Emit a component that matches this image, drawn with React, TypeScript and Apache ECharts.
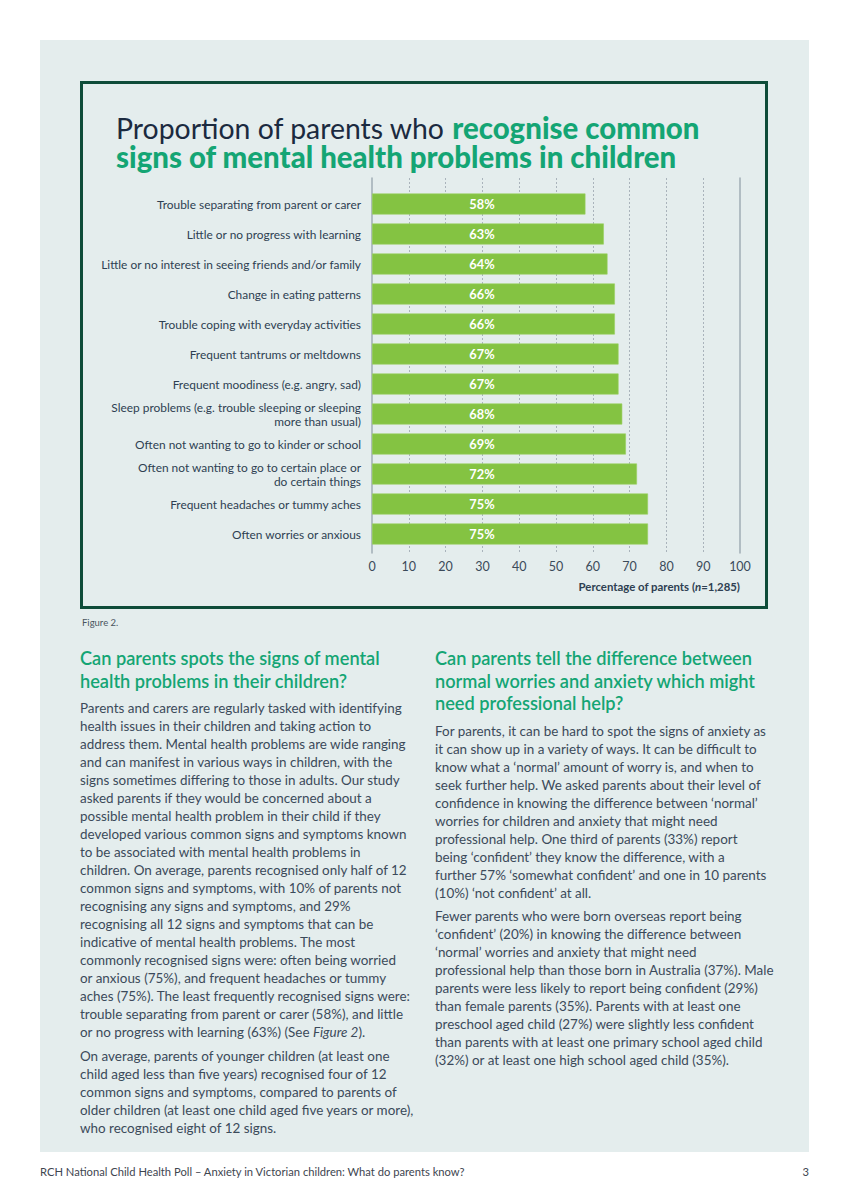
import React, { useEffect, useRef } from "react";
import * as echarts from "echarts";

const categories = [
  "Trouble separating from parent or carer",
  "Little or no progress with learning",
  "Little or no interest in seeing friends and/or family",
  "Change in eating patterns",
  "Trouble coping with everyday activities",
  "Frequent tantrums or meltdowns",
  "Frequent moodiness (e.g. angry, sad)",
  "Sleep problems (e.g. trouble sleeping or sleeping\nmore than usual)",
  "Often not wanting to go to kinder or school",
  "Often not wanting to go to certain place or\ndo certain things",
  "Frequent headaches or tummy aches",
  "Often worries or anxious",
];
const values = [58, 63, 64, 66, 66, 67, 67, 68, 69, 72, 75, 75];
const tickValues = [0, 10, 20, 30, 40, 50, 60, 70, 80, 90, 100];

const leftHeading = ["Can parents spots the signs of mental", "health problems in their children?"];
const leftPara1 = [
  "Parents and carers are regularly tasked with identifying",
  "health issues in their children and taking action to",
  "address them. Mental health problems are wide ranging",
  "and can manifest in various ways in children, with the",
  "signs sometimes differing to those in adults. Our study",
  "asked parents if they would be concerned about a",
  "possible mental health problem in their child if they",
  "developed various common signs and symptoms known",
  "to be associated with mental health problems in",
  "children. On average, parents recognised only half of 12",
  "common signs and symptoms, with 10% of parents not",
  "recognising any signs and symptoms, and 29%",
  "recognising all 12 signs and symptoms that can be",
  "indicative of mental health problems. The most",
  "commonly recognised signs were: often being worried",
  "or anxious (75%), and frequent headaches or tummy",
  "aches (75%). The least frequently recognised signs were:",
  "trouble separating from parent or carer (58%), and little",
  "or no progress with learning (63%) (See Figure 2).",
];
const leftPara2 = [
  "On average, parents of younger children (at least one",
  "child aged less than five years) recognised four of 12",
  "common signs and symptoms, compared to parents of",
  "older children (at least one child aged five years or more),",
  "who recognised eight of 12 signs.",
];
const rightHeading = [
  "Can parents tell the difference between",
  "normal worries and anxiety which might",
  "need professional help?",
];
const rightPara1 = [
  "For parents, it can be hard to spot the signs of anxiety as",
  "it can show up in a variety of ways. It can be difficult to",
  "know what a \u2018normal\u2019 amount of worry is, and when to",
  "seek further help. We asked parents about their level of",
  "confidence in knowing the difference between \u2018normal\u2019",
  "worries for children and anxiety that might need",
  "professional help. One third of parents (33%) report",
  "being \u2018confident\u2019 they know the difference, with a",
  "further 57% \u2018somewhat confident\u2019 and one in 10 parents",
  "(10%) \u2018not confident\u2019 at all.",
];
const rightPara2 = [
  "Fewer parents who were born overseas report being",
  "\u2018confident\u2019 (20%) in knowing the difference between",
  "\u2018normal\u2019 worries and anxiety that might need",
  "professional help than those born in Australia (37%). Male",
  "parents were less likely to report being confident (29%)",
  "than female parents (35%). Parents with at least one",
  "preschool aged child (27%) were slightly less confident",
  "than parents with at least one primary school aged child",
  "(32%) or at least one high school aged child (35%).",
];

const FONT = "Lato, 'Open Sans', sans-serif";
const GREEN_TEXT = "#14a574";
const BODY = "#3b4a5a";

function renderLine(line: string, i: number) {
  const key = "Figure 2";
  const idx = line.indexOf(key);
  if (idx >= 0) {
    return (
      <div key={i}>
        {line.slice(0, idx)}
        <i>{key}</i>
        {line.slice(idx + key.length)}
      </div>
    );
  }
  return <div key={i}>{line}</div>;
}

const headingStyle: React.CSSProperties = {
  fontFamily: FONT,
  fontSize: 18.2,
  fontWeight: 600,
  lineHeight: "22.5px",
  color: GREEN_TEXT,
  whiteSpace: "nowrap",
};
const bodyStyle: React.CSSProperties = {
  fontFamily: FONT,
  fontSize: 13.45,
  lineHeight: "18px",
  color: BODY,
  whiteSpace: "nowrap",
};

const titleRich = {
  a: { fontFamily: FONT, fontSize: 28.4, fontWeight: 400, color: "#1b2a40", lineHeight: 29 },
  b: { fontFamily: FONT, fontSize: 29.4, fontWeight: 900, color: GREEN_TEXT, lineHeight: 29 },
};

export default function App() {
  const ref = useRef<HTMLDivElement>(null);
  useEffect(() => {
    if (!ref.current) return;
    const chart = echarts.init(ref.current, undefined, { renderer: "svg" });
    chart.setOption({
      animation: false,
      backgroundColor: "transparent",
      title: [
        {
          left: 116,
          top: 113,
          padding: 0,
          text: "{a|Proportion of parents who }{b|recognise common}",
          textStyle: { rich: titleRich },
        },
        {
          left: 116,
          top: 142,
          padding: 0,
          text: "{b|signs of mental health problems in children}",
          textStyle: { rich: titleRich },
        },
      ],
      grid: [
        { left: 372, width: 368, top: 189, height: 360, containLabel: false },
        { left: 372, width: 368, top: 178, height: 375, containLabel: false },
      ],
      xAxis: [
        { gridIndex: 0, type: "value", min: 0, max: 100, show: false },
        {
          gridIndex: 1,
          type: "value",
          min: 0,
          max: 100,
          interval: 10,
          axisLine: { show: false },
          axisTick: { show: false },
          axisLabel: {
            margin: 7,
            color: BODY,
            fontFamily: FONT,
            fontSize: 12.5,
            formatter: (v: number) => (tickValues.includes(v) ? String(v) : ""),
          },
          splitLine: {
            show: true,
            showMinLine: false,
            showMaxLine: false,
            lineStyle: { color: "#a9b3bb", type: [2, 2], width: 1 },
          },
        },
      ],
      yAxis: [
        {
          gridIndex: 0,
          type: "category",
          data: categories,
          inverse: true,
          axisLine: { show: false },
          axisTick: { show: false },
          splitLine: { show: false },
          axisLabel: {
            margin: 11,
            color: "#2e3f52",
            fontFamily: FONT,
            fontSize: 11.9,
            lineHeight: 14,
            align: "right",
          },
        },
        {
          gridIndex: 1,
          type: "value",
          min: 0,
          max: 1,
          position: "left",
          axisLine: { show: true, lineStyle: { color: "#a1acb5", width: 1.5 } },
          axisTick: { show: false },
          axisLabel: { show: false },
          splitLine: { show: false },
        },
        {
          gridIndex: 1,
          type: "value",
          min: 0,
          max: 1,
          position: "right",
          axisLine: { show: true, lineStyle: { color: "#a1acb5", width: 1.5 } },
          axisTick: { show: false },
          axisLabel: { show: false },
          splitLine: { show: false },
        },
      ],
      series: [
        {
          type: "bar",
          xAxisIndex: 0,
          yAxisIndex: 0,
          data: values,
          barWidth: 21,
          itemStyle: { color: "#84c342", borderColor: "#9bd062", borderWidth: 0.6 },
          z: 3,
          label: {
            show: true,
            position: [110, "50%"],
            align: "center",
            verticalAlign: "middle",
            formatter: "{c}%",
            color: "#ffffff",
            fontFamily: FONT,
            fontWeight: 700,
            fontSize: 12.8,
          },
        },
      ],
      graphic: [
        {
          type: "text",
          x: 740,
          y: 586,
          style: {
            text: "{a|Percentage of parents (}{i|n}{a|=1,285)}",
            align: "right",
            verticalAlign: "middle",
            rich: {
              a: { fontFamily: FONT, fontSize: 11.4, fontWeight: 700, fill: "#2e3f52" },
              i: { fontFamily: FONT, fontSize: 11.4, fontWeight: 700, fontStyle: "italic", fill: "#2e3f52" },
            },
          },
        },
      ],
    });
    return () => chart.dispose();
  }, []);

  return (
    <div style={{ position: "absolute", left: 0, top: 0, width: 849, height: 1200, background: "#ffffff", overflow: "hidden" }}>
      <div style={{ position: "absolute", left: 40, top: 40, width: 769, height: 1112, background: "#e4eded" }} />
      <div
        style={{
          position: "absolute",
          left: 80,
          top: 81,
          width: 688,
          height: 528,
          border: "3px solid #0e4c39",
          boxSizing: "border-box",
        }}
      />
      <div ref={ref} style={{ position: "absolute", left: 0, top: 0, width: 849, height: 620 }} />
      <div style={{ position: "absolute", left: 82, top: 617, fontFamily: FONT, fontSize: 9.5, color: "#4a5560", lineHeight: "12px" }}>
        Figure 2.
      </div>
      <div style={{ position: "absolute", left: 80, top: 647 }}>
        <div style={headingStyle}>{leftHeading.map(renderLine)}</div>
        <div style={{ ...bodyStyle, marginTop: 7 }}>{leftPara1.map(renderLine)}</div>
        <div style={{ ...bodyStyle, marginTop: 6 }}>{leftPara2.map(renderLine)}</div>
      </div>
      <div style={{ position: "absolute", left: 435, top: 647 }}>
        <div style={headingStyle}>{rightHeading.map(renderLine)}</div>
        <div style={{ ...bodyStyle, marginTop: 7 }}>{rightPara1.map(renderLine)}</div>
        <div style={{ ...bodyStyle, marginTop: 5 }}>{rightPara2.map(renderLine)}</div>
      </div>
      <div style={{ position: "absolute", left: 40, top: 1165, fontFamily: FONT, fontSize: 11.2, color: "#3e4650", lineHeight: "14px", whiteSpace: "nowrap" }}>
        RCH National Child Health Poll – Anxiety in Victorian children: What do parents know?
      </div>
      <div style={{ position: "absolute", right: 40, top: 1165, fontFamily: FONT, fontSize: 11.2, color: "#3e4650", lineHeight: "14px" }}>
        3
      </div>
    </div>
  );
}
